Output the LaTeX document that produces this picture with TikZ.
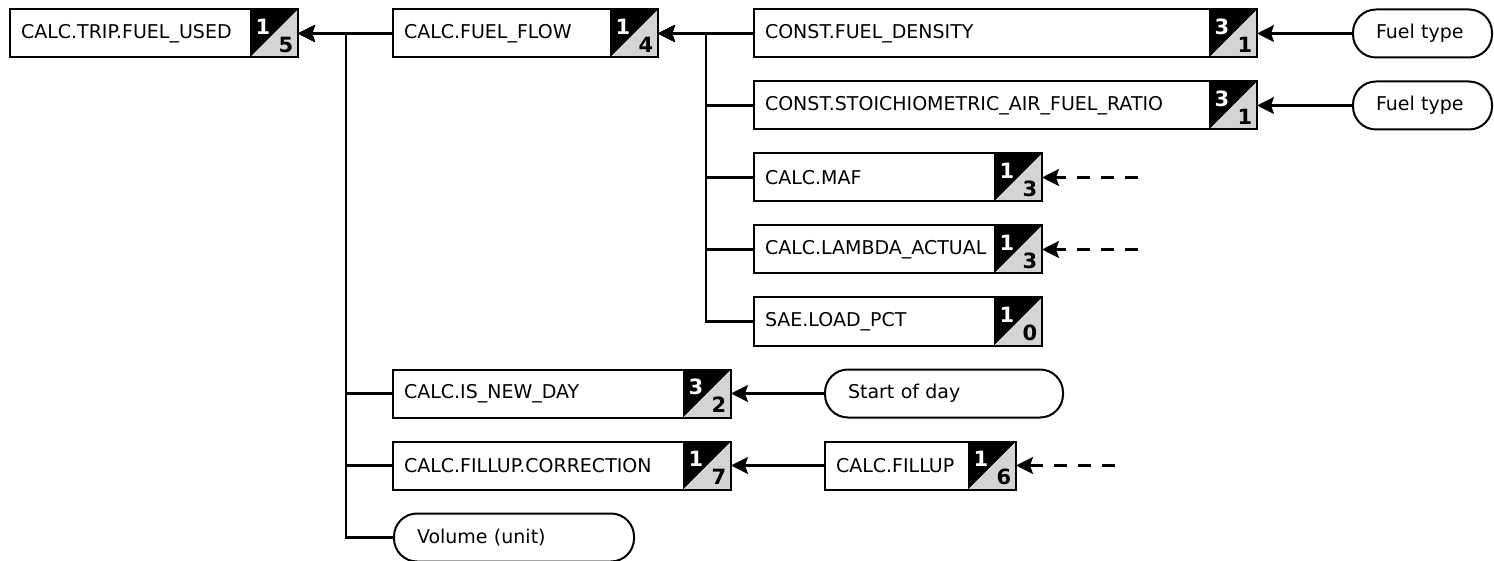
\documentclass[tikz,border=0pt]{standalone}
\usepackage{fontspec}
\setmainfont{DejaVu Sans}
\usetikzlibrary{arrows.meta,calc}
\definecolor{badgegray}{RGB}{212,212,212}
\tikzset{
  lbl/.style={font=\fontsize{19}{22}\selectfont},
  box/.style={lbl, draw, line width=2pt, outer sep=0pt, minimum height=48pt,
    inner xsep=11pt, inner ysep=0pt, anchor=west, align=left, fill=white},
  term/.style={lbl, draw, line width=2pt, outer sep=0pt, minimum height=48pt,
    inner xsep=23pt, inner ysep=0pt, anchor=west, align=left, rounded corners=23pt},
  boxline/.style={line width=2pt},
  numtop/.style={text=white, font=\bfseries\fontsize{21}{21}\selectfont, inner sep=0pt},
  numbot/.style={text=black, font=\bfseries\fontsize{21}{21}\selectfont, inner sep=0pt},
  conn/.style={line width=2.2pt, -{Stealth[length=17pt,width=17pt,inset=3pt]}},
  dconn/.style={conn, dash pattern=on 13pt off 11pt},
}
\newcommand{\mybadge}[3]{%
  \fill[black] ($(#1.south east)+(-48,0)$) -- ($(#1.north east)+(-48,0)$) -- (#1.north east) -- cycle;
  \fill[badgegray] ($(#1.south east)+(-48,0)$) -- (#1.south east) -- (#1.north east) -- cycle;
  \draw[boxline] (#1.north west) rectangle (#1.south east);
  \node[numtop] (#1t) at ($(#1.north east)+(-35,17)$) {#2};
  \node[numbot] (#1b) at ($(#1.south east)+(-12,-13)$) {#3};
}
\begin{document}
\begin{tikzpicture}[x=1pt,y=-1pt]
\useasboundingbox (0,0) rectangle (1494,561);
% rectangular nodes
\node[box, text width=266pt] (trip)   at (10,33.5)   {CALC.TRIP.FUEL\_USED};
\node[box, text width=243pt] (flow)   at (393,33.5)  {CALC.FUEL\_FLOW};
\node[box, text width=481pt] (dens)   at (754,33.5)  {CONST.FUEL\_DENSITY};
\node[box, text width=481pt] (stoich) at (754,105.5) {CONST.STOICHIOMETRIC\_AIR\_FUEL\_RATIO};
\node[box, text width=266pt] (maf)    at (754,177.5) {CALC.MAF};
\node[box, text width=266pt] (lam)    at (754,249.5) {CALC.LAMBDA\_ACTUAL};
\node[box, text width=266pt] (sae)    at (754,321.5) {SAE.LOAD\_PCT};
\node[box, text width=316pt] (newday) at (393,393.5) {CALC.IS\_NEW\_DAY};
\node[box, text width=316pt] (corr)   at (393,465.5) {CALC.FILLUP.CORRECTION};
\node[box, text width=169pt] (fillup) at (825,465.5) {CALC.FILLUP};
% rounded terminal nodes
\node[term, text width=93pt]  (fuelA) at (1353,33.5)  {Fuel type};
\node[term, text width=93pt]  (fuelB) at (1353,105.5) {Fuel type};
\node[term, text width=192pt] (sod)   at (825,393.5)  {Start of day};
\node[term, text width=194pt] (vol)   at (394,537.5)  {Volume (unit)};
% badges
\mybadge{trip}{1}{5}
\mybadge{flow}{1}{4}
\mybadge{dens}{3}{1}
\mybadge{stoich}{3}{1}
\mybadge{maf}{1}{3}
\mybadge{lam}{1}{3}
\mybadge{sae}{1}{0}
\mybadge{newday}{3}{2}
\mybadge{corr}{1}{7}
\mybadge{fillup}{1}{6}
% dangling sources
\coordinate (mafsrc) at (1138,177.5);
\coordinate (lamsrc) at (1138,249.5);
\coordinate (fillsrc) at (1115,465.5);
% connectors: trip tree
\draw[conn] (flow.west) -- (trip.east);
\draw[conn] (newday.west) -- ++(-47,0) |- (trip.east);
\draw[conn] (corr.west) -- ++(-47,0) |- (trip.east);
\draw[conn] (vol.west) -- ++(-48,0) |- (trip.east);
% flow tree
\draw[conn] (dens.west) -- (flow.east);
\draw[conn] (stoich.west) -- ++(-48,0) |- (flow.east);
\draw[conn] (maf.west) -- ++(-48,0) |- (flow.east);
\draw[conn] (lam.west) -- ++(-48,0) |- (flow.east);
\draw[conn] (sae.west) -- ++(-48,0) |- (flow.east);
% inputs
\draw[conn] (fuelA.west) -- (dens.east);
\draw[conn] (fuelB.west) -- (stoich.east);
\draw[conn] (sod.west) -- (newday.east);
\draw[conn] (fillup.west) -- (corr.east);
\draw[dconn] (mafsrc) -- (maf.east);
\draw[dconn] (lamsrc) -- (lam.east);
\draw[dconn] (fillsrc) -- (fillup.east);
\end{tikzpicture}
\end{document}
